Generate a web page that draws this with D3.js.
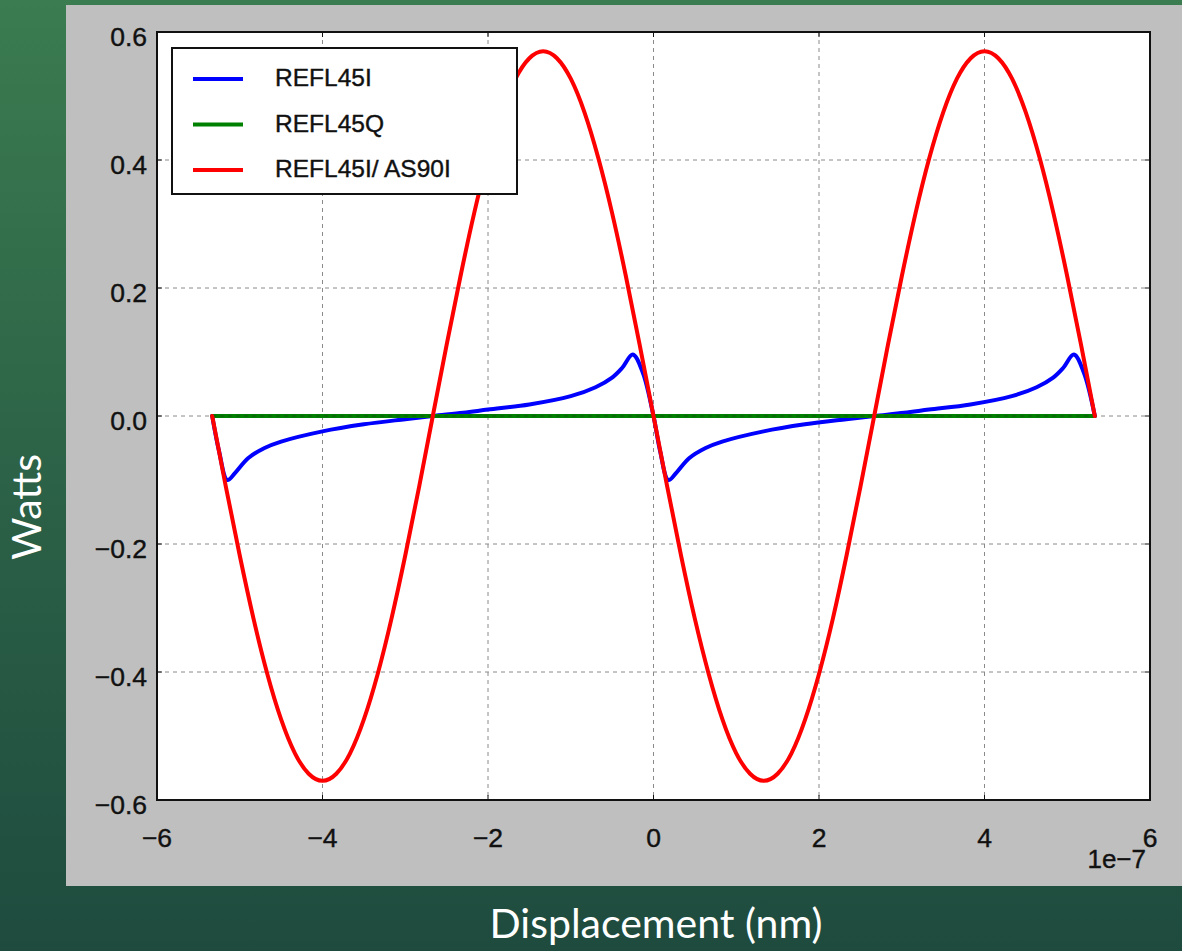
<!DOCTYPE html>
<html>
<head>
<meta charset="utf-8">
<script src="https://cdn.jsdelivr.net/npm/d3@7"></script>
<style>
  html, body { margin: 0; padding: 0; background: #2a5e46; }
  svg { display: block; }
</style>
</head>
<body>
<svg id="canvas" width="1182" height="951"></svg>
<script>
const W = 1182, H = 951;
const svg = d3.select("#canvas");

// --- data (x in units of 1e-7) ---
const greenX = [-5.333, 5.333];
const greenY = [0, 0];

const redX = [-5.333, -5.167, -5.000, -4.833, -4.667, -4.500, -4.333, -4.167, -4.000, -3.833, -3.667, -3.500, -3.333, -3.167, -3.000, -2.833,
              -2.667, -2.500, -2.333, -2.167, -2.000, -1.833, -1.667, -1.500, -1.333, -1.167, -1.000, -0.833, -0.667, -0.500, -0.333, -0.167,
              0, 0.167, 0.333, 0.500, 0.667, 0.833, 1.000, 1.167, 1.333, 1.500, 1.667, 1.833, 2.000, 2.167, 2.333, 2.500,
              2.667, 2.833, 3.000, 3.167, 3.333, 3.500, 3.667, 3.833, 4.000, 4.167, 4.333, 4.500, 4.667, 4.833, 5.000, 5.167, 5.333];
const redY = [0, -0.111, -0.218, -0.317, -0.403, -0.474, -0.527, -0.559, -0.570, -0.559, -0.527, -0.474, -0.403, -0.317, -0.218, -0.111,
              0, 0.111, 0.218, 0.317, 0.403, 0.474, 0.527, 0.559, 0.570, 0.559, 0.527, 0.474, 0.403, 0.317, 0.218, 0.111,
              0, -0.111, -0.218, -0.317, -0.403, -0.474, -0.527, -0.559, -0.570, -0.559, -0.527, -0.474, -0.403, -0.317, -0.218, -0.111,
              0, 0.111, 0.218, 0.317, 0.403, 0.474, 0.527, 0.559, 0.570, 0.559, 0.527, 0.474, 0.403, 0.317, 0.218, 0.111, 0];

const blueX = [-5.333, -5.25, -5.15, -5.05, -4.9, -4.7, -4.5, -4.0, -3.5, -3.0, -2.667, -2.3, -2.0, -1.5, -1.0, -0.7, -0.5, -0.38, -0.25, -0.13, 0,
               0.08, 0.18, 0.28, 0.43, 0.63, 0.83, 1.33, 1.83, 2.33, 2.667, 3.03, 3.33, 3.83, 4.33, 4.63, 4.83, 4.95, 5.08, 5.2, 5.333];
const blueY = [0, -0.055, -0.100, -0.088, -0.066, -0.050, -0.040, -0.024, -0.013, -0.005, 0, 0.005, 0.010, 0.018, 0.031, 0.045, 0.060, 0.075, 0.096, 0.068, 0,
               -0.055, -0.100, -0.088, -0.066, -0.050, -0.040, -0.024, -0.013, -0.005, 0, 0.005, 0.010, 0.018, 0.031, 0.045, 0.060, 0.075, 0.096, 0.068, 0];

const series = [
  {name: "REFL45I", color: "#0000ff", x: blueX, y: blueY, curve: d3.curveCatmullRom.alpha(0.5)},
  {name: "REFL45Q", color: "#008000", x: greenX, y: greenY, curve: d3.curveLinear},
  {name: "REFL45I/ AS90I", color: "#ff0000", x: redX, y: redY, curve: d3.curveNatural}
];

const xTicks = [-6, -4, -2, 0, 2, 4, 6];
const yTicks = [-0.6, -0.4, -0.2, 0.0, 0.2, 0.4, 0.6];

const FONT = "Liberation Sans, Arial, Helvetica, sans-serif";

// --- background ---
const defs = svg.append("defs");
const bg = defs.append("linearGradient").attr("id", "bg").attr("x1", 0).attr("y1", 0).attr("x2", 0).attr("y2", 1);
bg.append("stop").attr("offset", "0%").attr("stop-color", "#3b7c50");
bg.append("stop").attr("offset", "50%").attr("stop-color", "#2c6247");
bg.append("stop").attr("offset", "100%").attr("stop-color", "#1e4b3e");
svg.append("rect").attr("width", W).attr("height", H).attr("fill", "url(#bg)");

// grey figure panel
svg.append("rect").attr("x", 66).attr("y", 5).attr("width", W - 66).attr("height", 881).attr("fill", "#bfbfbf");

// --- plot area ---
const plot = {left: 157, right: 1150, top: 32, bottom: 800};
const x = d3.scaleLinear().domain([-6, 6]).range([plot.left, plot.right]);
const y = d3.scaleLinear().domain([-0.6, 0.6]).range([plot.bottom, plot.top]);

svg.append("rect").attr("x", plot.left).attr("y", plot.top)
  .attr("width", plot.right - plot.left).attr("height", plot.bottom - plot.top).attr("fill", "#fff");

defs.append("clipPath").attr("id", "clip").append("rect")
  .attr("x", plot.left).attr("y", plot.top).attr("width", plot.right - plot.left).attr("height", plot.bottom - plot.top);

// grid
const grid = svg.append("g").attr("stroke", "#8a8a8a").attr("stroke-width", 1).attr("stroke-dasharray", "4,4");
grid.selectAll(".gx").data(xTicks.slice(1, -1)).join("line")
  .attr("x1", d => x(d)).attr("x2", d => x(d)).attr("y1", plot.top).attr("y2", plot.bottom);
grid.selectAll(".gy").data(yTicks.slice(1, -1)).join("line")
  .attr("y1", d => y(d)).attr("y2", d => y(d)).attr("x1", plot.left).attr("x2", plot.right);

// lines
const lines = svg.append("g").attr("clip-path", "url(#clip)");
series.forEach(s => {
  const line = d3.line().x(d => x(d[0])).y(d => y(d[1])).curve(s.curve);
  lines.append("path")
    .attr("d", line(s.x.map((v, j) => [v, s.y[j]])))
    .attr("fill", "none").attr("stroke", s.color).attr("stroke-width", 4)
    .attr("stroke-linejoin", "round").attr("stroke-linecap", "round");
  if (s.name === "REFL45Q") {
    // zero grid line shows through the flat green trace
    lines.append("line").attr("x1", x(-5.333)).attr("x2", x(5.333)).attr("y1", y(0)).attr("y2", y(0))
      .attr("stroke", "#1a3a1a").attr("stroke-width", 1).attr("stroke-dasharray", "4,4").attr("opacity", 0.6);
  }
});

// frame
svg.append("rect").attr("x", plot.left).attr("y", plot.top)
  .attr("width", plot.right - plot.left).attr("height", plot.bottom - plot.top)
  .attr("fill", "none").attr("stroke", "#111").attr("stroke-width", 2);

// ticks (inward)
const tk = svg.append("g").attr("stroke", "#111").attr("stroke-width", 1);
xTicks.forEach(t => {
  tk.append("line").attr("x1", x(t)).attr("x2", x(t)).attr("y1", plot.bottom).attr("y2", plot.bottom - 5);
  tk.append("line").attr("x1", x(t)).attr("x2", x(t)).attr("y1", plot.top).attr("y2", plot.top + 5);
});
yTicks.forEach(t => {
  tk.append("line").attr("y1", y(t)).attr("y2", y(t)).attr("x1", plot.left).attr("x2", plot.left + 5);
  tk.append("line").attr("y1", y(t)).attr("y2", y(t)).attr("x1", plot.right).attr("x2", plot.right - 5);
});

// tick labels
const fmtY = d => d3.format(".1f")(d).replace("-", "\u2212");
const fmtX = d => String(d).replace("-", "\u2212");
svg.append("g").selectAll("text").data(yTicks).join("text")
  .attr("x", 147).attr("y", d => y(d) + 7).attr("dominant-baseline", "middle")
  .attr("text-anchor", "end").attr("font-family", FONT)
  .attr("font-size", 26.5).attr("fill", "#111").attr("stroke", "#111").attr("stroke-width", 0.4).text(fmtY);
svg.append("g").selectAll("text").data(xTicks).join("text")
  .attr("x", d => x(d)).attr("y", 847).attr("text-anchor", "middle")
  .attr("font-family", FONT)
  .attr("font-size", 26.5).attr("fill", "#111").attr("stroke", "#111").attr("stroke-width", 0.4).text(fmtX);
svg.append("text").attr("x", 1146).attr("y", 868).attr("text-anchor", "end")
  .attr("font-family", FONT).attr("font-size", 26).attr("fill", "#111").attr("stroke", "#111").attr("stroke-width", 0.4)
  .text("1e\u22127");

// legend
const lg = svg.append("g");
lg.append("rect").attr("x", 172).attr("y", 48).attr("width", 345).attr("height", 146)
  .attr("fill", "#fff").attr("stroke", "#111").attr("stroke-width", 2);
series.forEach((s, i) => {
  const ly = 79 + i * 45.5;
  lg.append("line").attr("x1", 193).attr("x2", 243).attr("y1", ly).attr("y2", ly)
    .attr("stroke", s.color).attr("stroke-width", 4);
  lg.append("text").attr("x", 275).attr("y", ly + 1).attr("dominant-baseline", "middle")
    .attr("font-family", FONT).attr("font-size", 24.5).attr("fill", "#111")
    .attr("stroke", "#111").attr("stroke-width", 0.4)
    .text(s.name);
});

// axis titles on the slide
svg.append("text").attr("transform", "translate(31,507) rotate(-90)")
  .attr("text-anchor", "middle").attr("dominant-baseline", "middle")
  .attr("font-family", "Lato, Open Sans, sans-serif").attr("font-size", 41).attr("fill", "#fff")
  .text("Watts");
svg.append("text").attr("x", 656).attr("y", 928)
  .attr("text-anchor", "middle").attr("dominant-baseline", "middle")
  .attr("font-family", "Lato, Open Sans, sans-serif").attr("font-size", 41).attr("fill", "#fff")
  .text("Displacement (nm)");
</script>
</body>
</html>
